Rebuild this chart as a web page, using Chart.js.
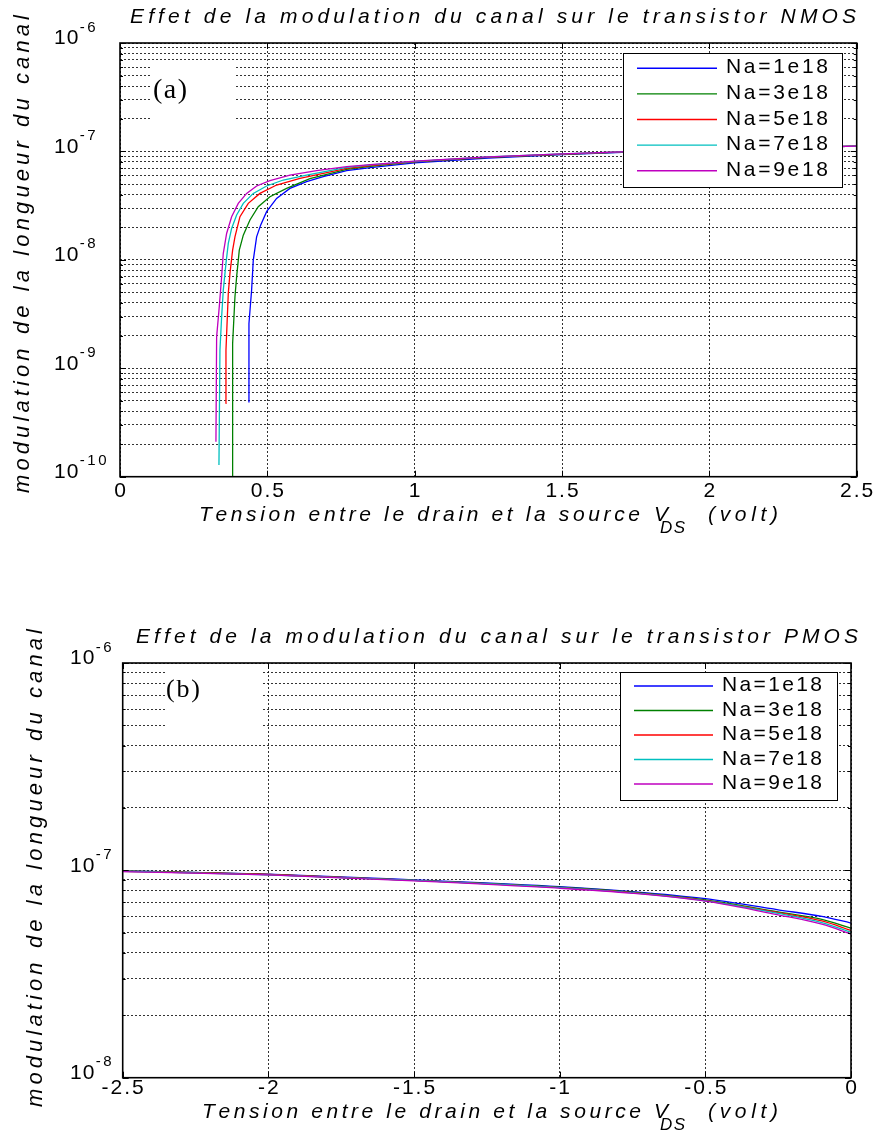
<!DOCTYPE html>
<html><head><meta charset="utf-8">
<script src="https://cdn.jsdelivr.net/npm/chart.js@4.4.1/dist/chart.umd.min.js"></script>
<style>
html,body{margin:0;padding:0;background:#fff;}
#wrap{position:relative;width:880px;height:1134px;background:#fff;}
canvas{position:absolute;left:0;top:0;}
</style></head><body>
<div id="wrap"><canvas id="cA" width="880" height="1134"></canvas><canvas id="cB" width="880" height="1134"></canvas></div>
<script>
// ---------- DATA ----------
const seriesNames = ['Na=1e18','Na=3e18','Na=5e18','Na=7e18','Na=9e18'];
const seriesColors = ['#0000ff','#008000','#ff0000','#00bfbf','#bf00bf'];

// Panel (a) : NMOS  (x = VDS in volt, y = channel length modulation)
const nmosBlueV = [0.4353,0.4376,0.4466,0.4523,0.4636,0.4772,0.4975,0.5314,0.5767,0.6332,0.6897,0.7689,0.85,1.0,1.25,1.5,1.75,2.0,2.25,2.5];
const nmosBlueL = [4.91e-10,2.59e-9,5.26e-9,9.96e-9,1.63e-8,2.09e-8,2.78e-8,3.69e-8,4.56e-8,5.26e-8,5.85e-8,6.64e-8,7.1e-8,7.85e-8,8.7e-8,9.35e-8,9.9e-8,1.04e-7,1.08e-7,1.12e-7];
const nmosGreenV = [0.381,0.3822,0.3901,0.3958,0.4048,0.4184,0.441,0.4692,0.5088,0.5654,0.6445,0.7689,0.85,1.0,1.25,1.5,1.75,2.0,2.25,2.5];
const nmosGreenL = [5e-11,1.69e-9,4.57e-9,6.98e-9,1.23e-8,1.69e-8,2.33e-8,3.09e-8,3.82e-8,4.56e-8,5.6e-8,6.84e-8,7.3e-8,8.0e-8,8.8e-8,9.4e-8,9.95e-8,1.04e-7,1.08e-7,1.12e-7];
const nmosRedV = [0.3584,0.3596,0.3675,0.3731,0.3822,0.3901,0.4071,0.4353,0.4749,0.5314,0.6106,0.7689,0.85,1.0,1.25,1.5,1.75,2.0,2.25,2.5];
const nmosRedL = [4.74e-10,1.47e-9,4.91e-9,7.5e-9,1.23e-8,1.63e-8,2.5e-8,3.32e-8,4.1e-8,4.9e-8,5.65e-8,6.98e-8,7.4e-8,8.05e-8,8.85e-8,9.45e-8,1.0e-7,1.04e-7,1.08e-7,1.12e-7];
const nmosCyanV = [0.3358,0.3392,0.3449,0.3505,0.3596,0.3675,0.3788,0.3958,0.4184,0.4523,0.4975,0.5541,0.6332,0.7689,0.85,1.0,1.25,1.5,1.75,2.0,2.25,2.5];
const nmosCyanL = [1.28e-10,1.47e-9,2.99e-9,5.26e-9,9.27e-9,1.42e-8,1.95e-8,2.59e-8,3.32e-8,4.1e-8,4.8e-8,5.45e-8,6.05e-8,7.13e-8,7.5e-8,8.1e-8,8.9e-8,9.5e-8,1.0e-7,1.04e-7,1.08e-7,1.12e-7];
const nmosMagV = [0.3256,0.3279,0.3369,0.3449,0.3505,0.3618,0.3788,0.4014,0.4297,0.4636,0.5088,0.5767,0.6671,0.7689,0.85,1.0,1.25,1.5,1.75,2.0,2.25,2.5];
const nmosMagL = [2.1e-10,1.95e-9,3.7e-9,6.98e-9,1.15e-8,1.75e-8,2.5e-8,3.32e-8,4.1e-8,4.8e-8,5.37e-8,6.05e-8,6.64e-8,7.23e-8,7.55e-8,8.15e-8,8.9e-8,9.5e-8,1.0e-7,1.04e-7,1.08e-7,1.12e-7];

// Panel (b) : PMOS
const pmosV = [-2.5,-2,-1.5,-1,-0.75,-0.5,-0.25,-0.1,0];
const pmosBlueL = [9.95e-8,9.6e-8,9.0e-8,8.35e-8,7.9e-8,7.3e-8,6.45e-8,6.0e-8,5.57e-8];
const pmosGreenL = [9.95e-8,9.55e-8,8.95e-8,8.3e-8,7.85e-8,7.2e-8,6.3e-8,5.8e-8,5.26e-8];
const pmosRedL = [9.9e-8,9.55e-8,8.95e-8,8.25e-8,7.8e-8,7.15e-8,6.25e-8,5.7e-8,5.13e-8];
const pmosCyanL = [9.9e-8,9.5e-8,8.95e-8,8.25e-8,7.78e-8,7.12e-8,6.2e-8,5.6e-8,5.03e-8];
const pmosMagL = [9.85e-8,9.5e-8,8.9e-8,8.2e-8,7.75e-8,7.1e-8,6.1e-8,5.5e-8,4.93e-8];

// Ticks
const xTicksA = [0,0.5,1,1.5,2,2.5];
const xTickLabelsA = ['0','0.5','1','1.5','2','2.5'];
const xTicksB = [-2.5,-2,-1.5,-1,-0.5,0];
const xTickLabelsB = ['-2.5','-2','-1.5','-1','-0.5','0'];
const yDecadesA = [-10,-9,-8,-7,-6];
const yDecadesB = [-8,-7,-6];
const logSignificands = [1,2,3,4,5,6,7,8,9];

const yTitle = 'modulation de la longueur du canal';
const titleA = 'Effet de la modulation du canal sur le transistor NMOS';
const titleB = 'Effet de la modulation du canal sur le transistor PMOS';
const xTitleMain = 'Tension entre le drain et la source';
const xTitleV = 'V', xTitleSub = 'DS', xTitleUnit = '(volt)';

// ---------- HELPERS ----------
function logTicks(decs){
  const t=[];
  decs.forEach((d,i)=>{
    if(i===decs.length-1){ t.push(Math.pow(10,d)); }
    else logSignificands.forEach(s=>t.push(s*Math.pow(10,d)));
  });
  return t;
}
function pts(xs,ys){ return xs.map((x,i)=>({x:x,y:ys[i]})); }
function spaced(ctx,text,x,y,width){
  const ch=[...text]; const ws=ch.map(c=>ctx.measureText(c).width);
  const nat=ws.reduce((a,b)=>a+b,0);
  const sp=ch.length>1?(width-nat)/(ch.length-1):0;
  let cx=x; ch.forEach((c,i)=>{ctx.fillText(c,cx,y); cx+=ws[i]+sp;});
}
function spacedW(ctx,text,sp){
  const ch=[...text]; return ch.reduce((a,c)=>a+ctx.measureText(c).width,0)+sp*(ch.length-1);
}
function spacedSp(ctx,text,x,y,sp){
  const ch=[...text]; let cx=x;
  ch.forEach(c=>{ctx.fillText(c,cx,y); cx+=ctx.measureText(c).width+sp;});
}
const SANS='"Liberation Sans", Arial, Helvetica, sans-serif';
const SERIF='"Liberation Serif", "Times New Roman", serif';

function makeDeco(cfg){
  return {
    id:'deco'+cfg.id,
    beforeDatasetsDraw(chart){
      const ctx=chart.ctx; const b=cfg.tagBox;
      ctx.save(); ctx.fillStyle='#fff'; ctx.fillRect(b[0],b[1],b[2],b[3]); ctx.restore();
    },
    afterDraw(chart){
      const ctx=chart.ctx, a=chart.chartArea, xs=chart.scales.x, ys=chart.scales.y;
      ctx.save();
      // tick marks (inside)
      ctx.strokeStyle='#000'; ctx.lineWidth=1; ctx.beginPath();
      cfg.xTicks.forEach(v=>{const px=Math.round(xs.getPixelForValue(v))+0.5;
        ctx.moveTo(px,a.bottom); ctx.lineTo(px,a.bottom-6); ctx.moveTo(px,a.top); ctx.lineTo(px,a.top+6);});
      ys.ticks.forEach(t=>{const py=Math.round(ys.getPixelForValue(t.value))+0.5;
        const lg=Math.log10(t.value); const major=Math.abs(lg-Math.round(lg))<1e-6; const L=major?6:3;
        ctx.moveTo(a.left,py); ctx.lineTo(a.left+L,py); ctx.moveTo(a.right,py); ctx.lineTo(a.right-L,py);});
      ctx.stroke();
      // axes box
      ctx.lineWidth=1.6; ctx.strokeRect(a.left,a.top,a.right-a.left,a.bottom-a.top);
      ctx.fillStyle='#000';
      // tag (a)/(b)
      ctx.font=cfg.tagFont; ctx.textBaseline='alphabetic';
      spaced(ctx,cfg.tag,cfg.tagX,cfg.tagY,cfg.tagW);
      // legend
      const lg=cfg.legend;
      ctx.fillStyle='#fff'; ctx.fillRect(lg.x,lg.y,lg.w,lg.h);
      ctx.lineWidth=1; ctx.strokeStyle='#000'; ctx.strokeRect(lg.x+0.5,lg.y+0.5,lg.w,lg.h);
      ctx.font='21px '+SANS; ctx.fillStyle='#000';
      seriesNames.forEach((n,i)=>{
        const ry=lg.row0+i*lg.rowH;
        ctx.strokeStyle=seriesColors[i]; ctx.lineWidth=1.4; ctx.beginPath();
        ctx.moveTo(lg.lx0,ry); ctx.lineTo(lg.lx1,ry); ctx.stroke();
        spaced(ctx,n,lg.tx,ry+5,lg.tw);
      });
      // title
      ctx.font='italic 21px '+SANS; ctx.textBaseline='alphabetic';
      spaced(ctx,cfg.title,cfg.titleX,cfg.titleY,cfg.titleW);
      // x tick labels
      ctx.font='21px '+SANS; ctx.textBaseline='middle';
      cfg.xTicks.forEach((v,i)=>{const px=xs.getPixelForValue(v); const s=cfg.xLabels[i];
        const w=spacedW(ctx,s,2); spacedSp(ctx,s,px-w/2,cfg.xTickY,2);});
      // y decade labels
      cfg.decades.forEach(d=>{const py=ys.getPixelForValue(Math.pow(10,d));
        ctx.font='21px '+SANS; ctx.textBaseline='middle';
        spacedSp(ctx,'10',cfg.yLabelX,py-4.5,1);
        const w10=spacedW(ctx,'10',1);
        ctx.font='15px '+SANS;
        spacedSp(ctx,String(d),cfg.yLabelX+w10+1.5,py-15.5,2.5);});
      // x axis title
      const xt=cfg.xTitle;
      ctx.font='italic 21px '+SANS; ctx.textBaseline='alphabetic';
      spaced(ctx,xTitleMain,xt.x,xt.y,xt.mainW);
      ctx.fillText(xTitleV,xt.vX,xt.y);
      spaced(ctx,xTitleUnit,xt.unitX,xt.y,xt.unitW);
      ctx.font='italic 17px '+SANS;
      spaced(ctx,xTitleSub,xt.subX,xt.subY,xt.subW);
      // y axis title
      ctx.save(); ctx.translate(cfg.yT.cx,cfg.yT.cy); ctx.rotate(-Math.PI/2);
      ctx.font='italic 22px '+SANS; ctx.textBaseline='middle';
      spaced(ctx,yTitle,-cfg.yT.len/2,0,cfg.yT.len);
      ctx.restore();
      ctx.restore();
    }
  };
}

function makeChart(id,datasets,xMin,xMax,yTickVals,pad,cfg,monotone){
  return new Chart(document.getElementById(id),{
    type:'line',
    data:{datasets:datasets.map((d,i)=>({
      label:seriesNames[i], data:d, borderColor:seriesColors[i], backgroundColor:seriesColors[i],
      borderWidth:1.3, pointRadius:0, fill:false, tension:0, order:5-i,
      cubicInterpolationMode: monotone?'monotone':'default'
    }))},
    options:{
      responsive:false, animation:false, events:[], devicePixelRatio:1,
      layout:{padding:pad, autoPadding:false},
      plugins:{legend:{display:false}, tooltip:{enabled:false}, title:{display:false}},
      scales:{
        x:{type:'linear', min:xMin, max:xMax,
          ticks:{display:false},
          grid:{color:'rgba(0,0,0,0.8)', lineWidth:1, drawTicks:false},
          border:{display:false, dash:[2,2]},
          afterBuildTicks:s=>{s.ticks=cfg.xTicks.map(v=>({value:v}));},
          afterFit:s=>{s.height=0;}},
        y:{type:'logarithmic', min:Math.pow(10,cfg.decades[0]), max:Math.pow(10,cfg.decades[cfg.decades.length-1]),
          ticks:{display:false},
          grid:{color:'rgba(0,0,0,0.8)', lineWidth:1, drawTicks:false},
          border:{display:false, dash:[2,2]},
          afterBuildTicks:s=>{s.ticks=yTickVals.map(v=>({value:v}));},
          afterFit:s=>{s.width=0;}}
      }
    },
    plugins:[makeDeco(cfg)]
  });
}

const cfgA={
  id:'A', xTicks:xTicksA, xLabels:xTickLabelsA, decades:yDecadesA,
  tag:'(a)', tagFont:'28px '+SERIF, tagX:153, tagY:98, tagW:34, tagBox:[152,62,83,62],
  legend:{x:623,y:53,w:219,h:134,row0:68.3,rowH:25.6,lx0:637,lx1:717,tx:726,tw:102},
  title:titleA, titleX:130, titleY:22.5, titleW:726,
  xTickY:491, yLabelX:54,
  xTitle:{x:199,y:521,mainW:441,vX:654,subX:660,subY:533,subW:25,unitX:708,unitW:70},
  yT:{cx:23,cy:254,len:478}
};
const cfgB={
  id:'B', xTicks:xTicksB, xLabels:xTickLabelsB, decades:yDecadesB,
  tag:'(b)', tagFont:'26px '+SERIF, tagX:166, tagY:697, tagW:34, tagBox:[165,668,98,67],
  legend:{x:620,y:672,w:217,h:128,row0:686,rowH:24.5,lx0:634,lx1:713,tx:722,tw:100},
  title:titleB, titleX:136, titleY:643, titleW:722,
  xTickY:1088, yLabelX:70,
  xTitle:{x:202,y:1118,mainW:439,vX:654,subX:660,subY:1130,subW:25,unitX:708,unitW:70},
  yT:{cx:36,cy:868,len:478}
};

makeChart('cA',[pts(nmosBlueV,nmosBlueL),pts(nmosGreenV,nmosGreenL),pts(nmosRedV,nmosRedL),pts(nmosCyanV,nmosCyanL),pts(nmosMagV,nmosMagL)],
  0,2.5,logTicks(yDecadesA),{left:120,top:43,right:23.3,bottom:657.3},cfgA,false);
makeChart('cB',[pts(pmosV,pmosBlueL),pts(pmosV,pmosGreenL),pts(pmosV,pmosRedL),pts(pmosV,pmosCyanL),pts(pmosV,pmosMagL)],
  -2.5,0,logTicks(yDecadesB),{left:122.7,top:663,right:29,bottom:56.3},cfgB,true);
</script>
</body></html>
